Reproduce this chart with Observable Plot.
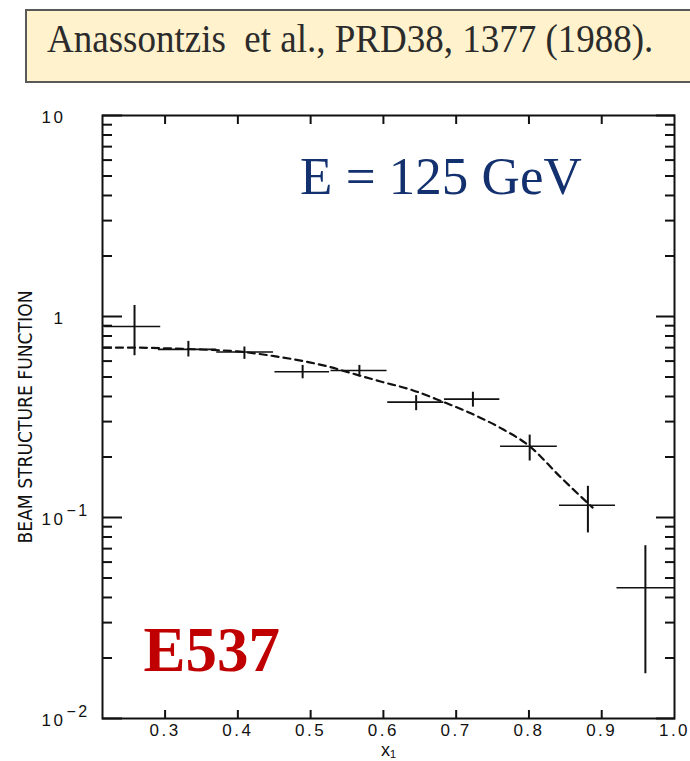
<!DOCTYPE html>
<html>
<head>
<meta charset="utf-8">
<script src="https://cdn.jsdelivr.net/npm/d3@7"></script>
<script src="https://cdn.jsdelivr.net/npm/@observablehq/plot@0.6"></script>
<style>
  html, body { margin: 0; padding: 0; background: #fff; width: 690px; height: 761px; overflow: hidden; }
  #head { position: relative; height: 100px; }
  #box { position: absolute; left: 25px; top: 9px; width: 700px; height: 70px;
         background: #FFF2CC; border: 2.5px solid #595959; box-sizing: content-box; }
  #title { position: absolute; left: 47px; top: 14px; font-family: "Liberation Serif", "Times New Roman", serif;
           font-size: 37px; color: #2b2b2b; white-space: pre; line-height: 50px;
           transform: scaleY(1.08); transform-origin: 0 50%; }
  .ticklab text { letter-spacing: 2.5px; }
</style>
</head>
<body>
<div id="head"><div id="box"></div><div id="title">Anassontzis  et al., PRD38, 1377 (1988).</div></div>
<div id="chart"></div>
<script>
// ---- data ----
const xVal = [0.258, 0.332, 0.409, 0.489, 0.567, 0.645, 0.723, 0.801, 0.881, 0.960];
const xLo  = [0.217, 0.291, 0.371, 0.451, 0.528, 0.606, 0.684, 0.761, 0.842, 0.921];
const xHi  = [0.294, 0.371, 0.449, 0.526, 0.605, 0.683, 0.760, 0.839, 0.919, 1.000];
const yVal = [0.891, 0.686, 0.666, 0.531, 0.539, 0.375, 0.388, 0.226, 0.115, 0.0447];
const yLo  = [0.638, 0.629, 0.612, 0.490, 0.500, 0.340, 0.354, 0.191, 0.0838, 0.0167];
const yHi  = [1.135, 0.752, 0.705, 0.571, 0.571, 0.404, 0.420, 0.257, 0.143, 0.0724];

const curveX = [0.216, 0.25, 0.30, 0.35, 0.40, 0.45, 0.50, 0.527, 0.55, 0.596, 0.64, 0.679, 0.72, 0.76, 0.801, 0.844, 0.8875];
const curveY = [0.70, 0.70, 0.695, 0.685, 0.67, 0.635, 0.59, 0.56, 0.53, 0.475, 0.43, 0.38, 0.33, 0.28, 0.226, 0.158, 0.112];

const xTicks = [0.3, 0.4, 0.5, 0.6, 0.7, 0.8, 0.9, 1.0];
const xInnerTicks = [0.3, 0.4, 0.5, 0.6, 0.7, 0.8, 0.9];
const yMajor = [0.01, 0.1, 1, 10];
const yMinor = [0.02, 0.03, 0.04, 0.05, 0.06, 0.07, 0.08, 0.09,
                0.2, 0.3, 0.4, 0.5, 0.6, 0.7, 0.8, 0.9,
                2, 3, 4, 5, 6, 7, 8, 9];
const yTickBase = ["10", "10", "1", "10"];
const yTickExp  = ["\u22122", "\u22121", "", ""];

const annText = ["E = 125 GeV", "E537"];
const annX = [0.679, 0.2703];
const annY = [4.09, 0.01733];

// ---- tables ----
const points = xVal.map((x, i) => ({x, xLo: xLo[i], xHi: xHi[i], y: yVal[i], yLo: yLo[i], yHi: yHi[i]}));
const curve = curveX.map((x, i) => ({x, y: curveY[i]}));
const yLabels = yMajor.map((v, i) => ({v, base: yTickBase[i], exp: yTickExp[i]}));

const ink = "#111";
const blank = () => "";

const plot = Plot.plot({
  width: 690,
  height: 661,
  marginTop: 15,
  marginBottom: 43,
  marginLeft: 102,
  marginRight: 16,
  style: {fontFamily: "'Liberation Sans', Arial, sans-serif", fontSize: "14px", color: ink, background: "transparent", overflow: "visible"},
  x: {domain: [0.214, 1.0], label: null},
  y: {type: "log", domain: [0.01, 10], label: null},
  marks: [
    // inward ticks
    Plot.axisY({anchor: "left", ticks: yMajor, tickSize: -20, tickFormat: blank, strokeWidth: 2, stroke: ink}),
    Plot.axisY({anchor: "left", ticks: yMinor, tickSize: -10, tickFormat: blank, strokeWidth: 2, stroke: ink}),
    Plot.axisY({anchor: "right", ticks: yMajor, tickSize: -19, tickFormat: blank, strokeWidth: 2, stroke: ink}),
    Plot.axisY({anchor: "right", ticks: yMinor, tickSize: -10, tickFormat: blank, strokeWidth: 2, stroke: ink}),
    Plot.axisX({anchor: "bottom", ticks: xInnerTicks, tickSize: -8, tickFormat: blank, strokeWidth: 2, stroke: ink}),
    Plot.axisX({anchor: "top", ticks: xInnerTicks, tickSize: -8, tickFormat: blank, strokeWidth: 2, stroke: ink}),
    // x tick labels
    Plot.axisX({anchor: "bottom", ticks: xTicks, tickSize: 0, tickPadding: 5, tickFormat: d3.format(".1f"),
                fontSize: 17, fill: ink, className: "ticklab"}),
    // y tick labels (base + superscript exponent)
    Plot.text(yLabels, {y: "v", text: "base", frameAnchor: "left", textAnchor: "end", dx: -37, dy: 2,
                        fontSize: 17, fill: ink, className: "ticklab"}),
    Plot.text(yLabels, {y: "v", text: "exp", frameAnchor: "left", textAnchor: "start", dx: -36, dy: -7,
                        fontSize: 16, fill: ink, className: "ticklab"}),
    // axis titles
    Plot.text(["BEAM STRUCTURE FUNCTION"], {frameAnchor: "bottom-left", rotate: -90, dx: -77, dy: -175,
                        textAnchor: "start", lineAnchor: "middle",
                        fontFamily: "'Liberation Sans Narrow', 'DejaVu Sans Condensed', 'DejaVu Sans', sans-serif",
                        fontSize: 20, fill: ink, className: "ylab"}),
    Plot.text(["x\u2081"], {frameAnchor: "bottom", dy: 37, fontSize: 18, fill: ink}),
    // frame
    Plot.frame({stroke: ink, strokeWidth: 2}),
    // fit curve
    Plot.line(curve, {x: "x", y: "y", stroke: ink, strokeWidth: 2.2, strokeDasharray: "7,5", curve: "monotone-x"}),
    // error bars
    Plot.ruleX(points, {x: "x", y1: "yLo", y2: "yHi", stroke: ink, strokeWidth: 2}),
    Plot.ruleY(points, {y: "y", x1: "xLo", x2: "xHi", stroke: ink, strokeWidth: 1.6}),
    // annotations
    Plot.text([0], {x: () => annX[0], y: () => annY[0], text: () => annText[0], textAnchor: "middle", lineAnchor: "bottom",
                    fontFamily: "'Liberation Serif', 'Times New Roman', serif", fontSize: 53, fill: "#13306f"}),
    Plot.text([1], {x: () => annX[1], y: () => annY[1], text: () => annText[1], textAnchor: "start", lineAnchor: "bottom",
                    fontFamily: "'Liberation Serif', 'Times New Roman', serif", fontWeight: "bold", fontSize: 63, fill: "#C00000"})
  ]
});
document.getElementById("chart").appendChild(plot);
const yl = plot.querySelector(".ylab text");
if (yl) { yl.setAttribute("textLength", 253); yl.setAttribute("lengthAdjust", "spacingAndGlyphs"); }
</script>
</body>
</html>
